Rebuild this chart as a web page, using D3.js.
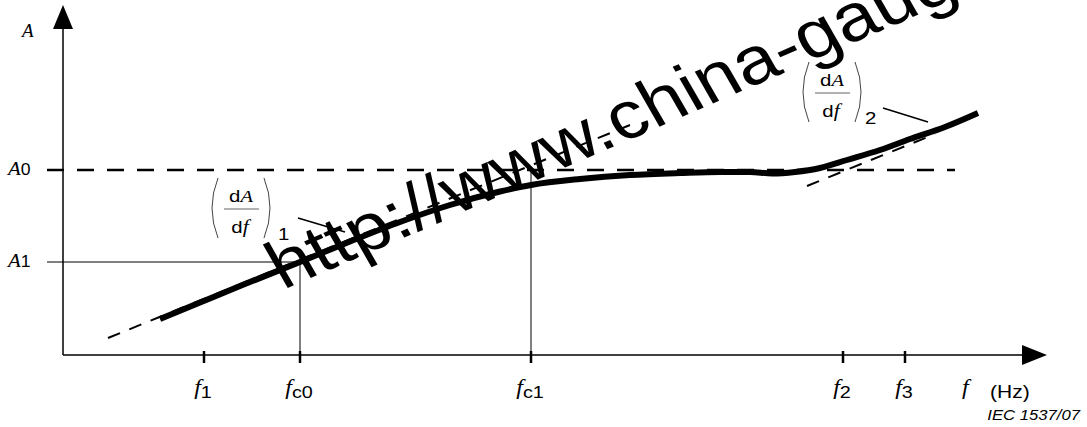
<!DOCTYPE html>
<html><head><meta charset="utf-8">
<script src="https://cdn.jsdelivr.net/npm/d3@7"></script>
<style>html,body{margin:0;padding:0;background:#fff;}svg{display:block;}
.serif{font-family:"Liberation Serif","DejaVu Serif",serif;font-style:italic;}
.sans{font-family:"Liberation Sans",Arial,sans-serif;font-style:normal;}
.sansi{font-family:"Liberation Sans",Arial,sans-serif;font-style:italic;}
</style>
</head><body>
<script>
// ---- data (frequency units along x, amplitude units along y) ----
const curveF = [97, 137, 177, 237, 287, 337, 387, 437, 468, 517, 567, 617, 657, 687, 709, 732, 757, 784, 817, 847, 882, 915];
const curveA = [36, 52.5, 69, 93, 113.5, 133, 150, 163.5, 170, 176, 180, 182, 183, 183, 181.5, 183, 187, 195, 205, 216, 228, 242];
const tickSubs = ["1", "c0", "c1", "2", "3"];
const tickFreqs = [141, 237, 468, 780, 842];
const levelSubs = ["0", "1"];
const levelValues = [185, 93];
const tangent1F = [45, 567], tangent1A = [17, 230];
const tangent2F = [744, 872], tangent2A = [169, 221];
const refLineF = [-16, 892];
const derivSubs = ["1", "2"];
const derivF = [177, 768];

const W = 1087, H = 427;
const svg = d3.select("body").append("svg").attr("width", W).attr("height", H);
const x = d3.scaleLinear().domain([0, 984]).range([63, 1047]);
const y = d3.scaleLinear().domain([0, 350]).range([355, 5]);
const SX = 1.2;

// reference level lines
svg.append("line").attr("x1", x(refLineF[0])).attr("x2", x(refLineF[1]))
  .attr("y1", y(levelValues[0])).attr("y2", y(levelValues[0]))
  .attr("stroke", "#000").attr("stroke-width", 2.5).attr("stroke-dasharray", "17,13");
svg.append("line").attr("x1", x(refLineF[0])).attr("x2", x(tickFreqs[1]))
  .attr("y1", y(levelValues[1])).attr("y2", y(levelValues[1]))
  .attr("stroke", "#000").attr("stroke-width", 1);
svg.append("line").attr("x1", x(tickFreqs[1])).attr("x2", x(tickFreqs[1]))
  .attr("y1", y(levelValues[1])).attr("y2", y(0)).attr("stroke", "#000").attr("stroke-width", 1);
svg.append("line").attr("x1", x(tickFreqs[2])).attr("x2", x(tickFreqs[2]))
  .attr("y1", y(levelValues[0])).attr("y2", y(0)).attr("stroke", "#000").attr("stroke-width", 1);

// tangents
const lineGen = d3.line().x(d => x(d[0])).y(d => y(d[1]));
[[tangent1F, tangent1A], [tangent2F, tangent2A]].forEach(([f, a]) => {
  svg.append("path").attr("d", lineGen(d3.zip(f, a)))
    .attr("fill", "none").attr("stroke", "#000").attr("stroke-width", 2).attr("stroke-dasharray", "13,10");
});

// main curve
const curveGen = d3.line().x(d => x(d[0])).y(d => y(d[1])).curve(d3.curveMonotoneX);
svg.append("path").attr("d", curveGen(d3.zip(curveF, curveA)))
  .attr("fill", "none").attr("stroke", "#000").attr("stroke-width", 6).attr("stroke-linecap", "butt");

// axes
svg.append("line").attr("x1", x(0)).attr("x2", x(0)).attr("y1", y(0)).attr("y2", y(330))
  .attr("stroke", "#000").attr("stroke-width", 1.5);
svg.append("path").attr("d", `M${x(0)},${y(350)} L${x(0) - 10},${y(326)} L${x(0) + 10},${y(326)} Z`).attr("fill", "#000");
svg.append("line").attr("x1", x(0)).attr("x2", x(962)).attr("y1", y(0)).attr("y2", y(0))
  .attr("stroke", "#000").attr("stroke-width", 1.5);
svg.append("path").attr("d", `M${x(984)},${y(0)} L${x(959)},${y(0) - 10} L${x(959)},${y(0) + 10} Z`).attr("fill", "#000");
svg.selectAll(".tick").data(tickFreqs).enter().append("line")
  .attr("x1", d => x(d)).attr("x2", d => x(d)).attr("y1", y(0) - 4).attr("y2", y(0) + 8)
  .attr("stroke", "#000").attr("stroke-width", 2.5);

// text helper
function label(px, py, parts, anchor, sx) {
  const t = svg.append("text").attr("transform", `translate(${px},${py}) scale(${sx || SX},1)`)
    .attr("text-anchor", anchor || "start").attr("fill", "#000");
  parts.forEach(p => {
    t.append("tspan").text(p.t).attr("class", p.serif ? "serif" : (p.italic ? "sansi" : "sans"))
      .style("font-size", p.size + "px")
      .attr("dy", p.dy || 0).attr("dx", p.dx || 0);
  });
  return t;
}

// y labels
label(22, 37, [{ t: "A", serif: 1, size: 19 }], "start", 1.0);
levelValues.forEach((v, i) => {
  label(8, y(v) + 5, [{ t: "A", serif: 1, size: 19 }, { t: levelSubs[i], size: 16 }], "start", 1.1);
});
// x labels
tickFreqs.forEach((f, i) => {
  label(x(f) - 1, 394, [{ t: "f", serif: 1, size: 20 }, { t: tickSubs[i], size: 16.5, dy: 4 }], "middle");
});
label(962, 394, [{ t: "f", serif: 1, size: 20 }]);
label(990, 398, [{ t: "(Hz)", size: 17.5 }]);
label(1080, 420, [{ t: "IEC  1537/07", size: 14.5, italic: 1 }], "end", 1.15);

// derivative annotations
function deriv(cx, top, sub, subDx, leader) {
  const h = 60, mid = top + h / 2;
  const lx = cx - 29, rx = cx + 31;
  svg.append("path").attr("d", `M${lx + 7},${top} Q${lx - 5},${mid} ${lx + 7},${top + h}`)
    .attr("fill", "none").attr("stroke", "#444").attr("stroke-width", 1);
  svg.append("path").attr("d", `M${rx - 7},${top} Q${rx + 5},${mid} ${rx - 7},${top + h}`)
    .attr("fill", "none").attr("stroke", "#444").attr("stroke-width", 1);
  svg.append("line").attr("x1", cx - 16).attr("x2", cx + 19).attr("y1", mid + 1).attr("y2", mid + 1)
    .attr("stroke", "#666").attr("stroke-width", 1.2);
  label(cx + 1, mid - 6, [{ t: "d", size: 17 }, { t: "A", serif: 1, size: 17 }], "middle");
  label(cx, mid + 25, [{ t: "d", size: 17 }, { t: "f", serif: 1, size: 18 }], "middle");
  label(cx + subDx, top + h + 2, [{ t: sub, size: 17 }]);
  svg.append("line").attr("x1", leader[0]).attr("y1", leader[1]).attr("x2", leader[2]).attr("y2", leader[3])
    .attr("stroke", "#000").attr("stroke-width", 1.6);
}
deriv(x(derivF[0]), 178, derivSubs[0], 38, [298, 218, 345, 232]);
deriv(x(derivF[1]), 62, derivSubs[1], 34, [883, 108, 928, 122]);

// watermark
svg.append("text").attr("class", "sans").attr("transform", "translate(283,290) scale(1.15,1) rotate(-26.5)")
  .style("font-size", "67px").attr("fill", "#000")
  .text("http://www.china-gauges.com");
</script>
</body></html>
